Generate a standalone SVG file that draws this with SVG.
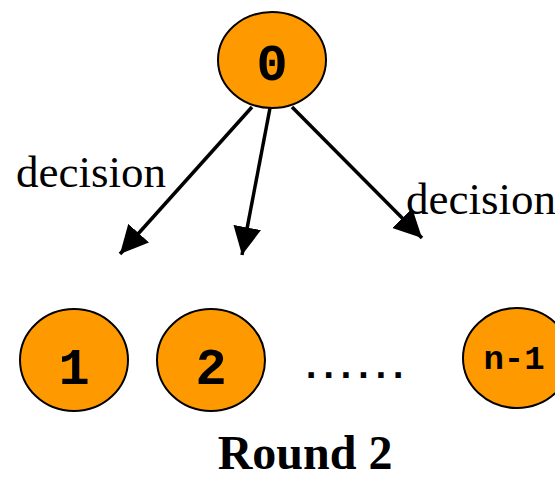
<svg xmlns="http://www.w3.org/2000/svg" width="555" height="480" viewBox="0 0 555 480">
<defs>
<style>
.node{fill:#FF9900;stroke:#000;stroke-width:2}
.num{font-family:"Liberation Mono","Courier New",monospace;font-weight:bold;fill:#000;text-anchor:middle}
.lbl{font-family:"Liberation Serif","Times New Roman",serif;fill:#000}
.edge{stroke:#000;stroke-width:3.5;fill:none}
</style>
<marker id="arr" markerUnits="userSpaceOnUse" markerWidth="30" markerHeight="28" viewBox="0 0 30 28" refX="28" refY="14" orient="auto">
<path d="M0,0 L28,14 L0,28 Z" fill="#000"/>
</marker>
</defs>
<rect width="555" height="480" fill="#fff"/>
<g id="connectors">
<line class="edge" x1="252" y1="107" x2="120" y2="254" marker-end="url(#arr)"/>
<line class="edge" x1="270" y1="108" x2="242" y2="255" marker-end="url(#arr)"/>
<line class="edge" x1="292" y1="107" x2="422" y2="238" marker-end="url(#arr)"/>
</g>
<g id="node0">
<ellipse class="node" cx="272" cy="60" rx="54" ry="48"/>
<text class="num" x="272" y="80" font-size="52">0</text>
</g>
<g id="node1">
<ellipse class="node" cx="74" cy="360" rx="54" ry="51"/>
<text class="num" x="74" y="384" font-size="52">1</text>
</g>
<g id="node2">
<ellipse class="node" cx="211" cy="360" rx="54" ry="51"/>
<text class="num" x="211" y="384" font-size="52">2</text>
</g>
<g id="noden1">
<ellipse class="node" cx="517" cy="358" rx="54" ry="50"/>
<text class="num" x="514" y="369" font-size="34">n-1</text>
</g>
<text class="num" x="352" y="378" font-size="38" letter-spacing="-5.4">......</text>
<text class="lbl" x="16" y="187" font-size="45">decision</text>
<text class="lbl" x="406" y="214" font-size="45">decision</text>
<text class="lbl" x="305" y="469" font-size="48" font-weight="bold" text-anchor="middle">Round 2</text>
</svg>
